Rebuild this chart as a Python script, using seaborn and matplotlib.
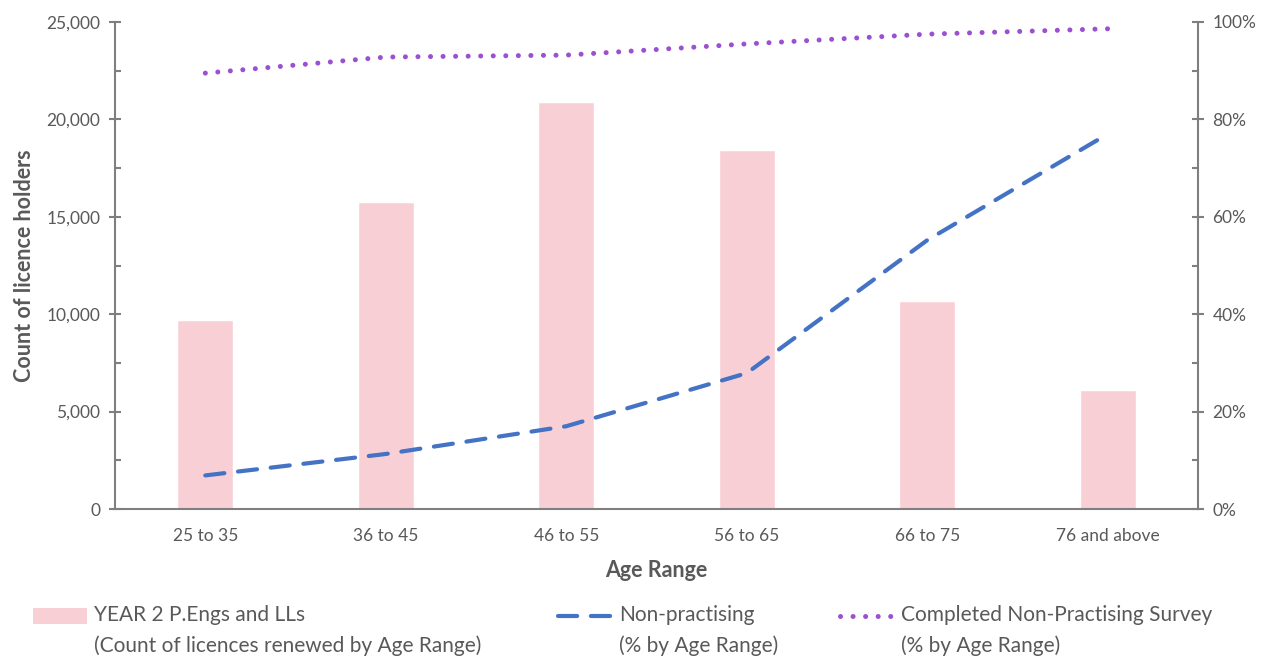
import matplotlib
matplotlib.use("Agg")
import matplotlib.pyplot as plt
import matplotlib.ticker as mticker
import matplotlib.transforms as mtransforms
from matplotlib.patches import Patch
from matplotlib.lines import Line2D
from matplotlib.legend_handler import HandlerPatch, HandlerLine2D
import numpy as np
import pandas as pd
import seaborn as sns

# Data
age_ranges = ["25 to 35", "36 to 45", "46 to 55", "56 to 65", "66 to 75", "76 and above"]
licences_renewed = [9700, 15760, 20900, 18430, 10680, 6100]
non_practising_pct = [6.9, 11.3, 17.0, 27.9, 55.2, 77.0]
completed_survey_pct = [89.5, 92.8, 93.2, 95.5, 97.5, 98.6]

legend_labels = [
    "YEAR 2 P.Engs and LLs\n(Count of licences renewed by Age Range)",
    "Non-practising\n(% by Age Range)",
    "Completed Non-Practising Survey\n(% by Age Range)",
]

BAR_COLOR = "#F9CFD6"
DASH_COLOR = "#4472C4"
DOT_COLOR = "#9A50D0"
TEXT_COLOR = "#595959"
AXIS_COLOR = "#7F7F7F"

sns.set_theme(style="white")
plt.rcParams["font.family"] = ["Lato", "DejaVu Sans"]

df = pd.DataFrame({
    "age": age_ranges,
    "count": licences_renewed,
    "pos": np.arange(len(age_ranges)),
    "nonprac": non_practising_pct,
    "survey": completed_survey_pct,
})

fig = plt.figure(figsize=(12.7, 6.58), dpi=100)
ax = fig.add_axes([0.0906, 0.2264, 0.8527, 0.7402])

sns.barplot(data=df, x="pos", y="count", color=BAR_COLOR, width=0.31,
            saturation=1, ax=ax)
ax.set_xlim(-0.5, len(age_ranges) - 0.5)
ax.set_ylim(0, 25000)
ax.set_xticks(range(len(age_ranges)))
ax.set_xticklabels(age_ranges)

ax2 = ax.twinx()
sns.lineplot(data=df, x="pos", y="nonprac", ax=ax2, color=DASH_COLOR,
             linewidth=3.0, legend=False)
sns.lineplot(data=df, x="pos", y="survey", ax=ax2, color=DOT_COLOR,
             linewidth=3.6, legend=False)
DASH_PATTERN = (4.6, 3.3)
DOT_PATTERN = (0.01, 2.5)
l_dash, l_dot = ax2.lines[0], ax2.lines[1]
l_dash.set_dashes(DASH_PATTERN)
l_dash.set_dash_capstyle("round")
l_dot.set_dashes(DOT_PATTERN)
l_dot.set_dash_capstyle("round")
ax2.set_ylim(0, 100)
ax2.set_xlim(-0.5, len(age_ranges) - 0.5)

# Axes styling
for a in (ax, ax2):
    for s in a.spines.values():
        s.set_visible(False)
ax.spines["left"].set_visible(True)
ax.spines["bottom"].set_visible(True)
ax2.spines["right"].set_visible(True)
for s in (ax.spines["left"], ax.spines["bottom"], ax2.spines["right"]):
    s.set_color(AXIS_COLOR)
    s.set_linewidth(1.5)

ax.yaxis.set_major_locator(mticker.MultipleLocator(5000))
ax.yaxis.set_minor_locator(mticker.MultipleLocator(2500))
ax.yaxis.set_major_formatter(mticker.FuncFormatter(lambda v, p: f"{int(v):,}"))
ax2.yaxis.set_major_locator(mticker.MultipleLocator(20))
ax2.yaxis.set_minor_locator(mticker.MultipleLocator(10))
ax2.yaxis.set_major_formatter(mticker.FuncFormatter(lambda v, p: f"{int(v)}%"))

ax.tick_params(axis="y", which="major", direction="inout", length=9, width=1.5,
               color=AXIS_COLOR, labelcolor=TEXT_COLOR, labelsize=12.5, pad=6, left=True)
ax.tick_params(axis="y", which="minor", direction="in", length=4, width=1.5,
               color=AXIS_COLOR, left=True)
ax2.tick_params(axis="y", which="major", direction="inout", length=9, width=1.5,
                color=AXIS_COLOR, labelcolor=TEXT_COLOR, labelsize=12.5, pad=6, right=True)
ax2.tick_params(axis="y", which="minor", direction="in", length=4, width=1.5,
                color=AXIS_COLOR, right=True)
ax.tick_params(axis="x", which="both", length=0, labelcolor=TEXT_COLOR,
               labelsize=12.5, pad=14)

ax.set_xlabel("Age Range", fontsize=15.5, fontweight="bold", color=TEXT_COLOR, labelpad=11)
ax.set_ylabel("Count of licence holders", fontsize=15.5, fontweight="bold",
              color=TEXT_COLOR, labelpad=8)
ax2.set_ylabel("")
ax.grid(False)
ax2.grid(False)


# Legend handlers that lift the key up to sit beside the first label line
LIFT = 10.5


class LiftedPatch(HandlerPatch):
    def create_artists(self, legend, orig_handle, xdescent, ydescent,
                       width, height, fontsize, trans):
        arts = super().create_artists(legend, orig_handle, xdescent, ydescent,
                                      width, height, fontsize, trans)
        for a in arts:
            a.set_transform(mtransforms.Affine2D().translate(0, LIFT) + trans)
        return arts


class LiftedLine(HandlerLine2D):
    def create_artists(self, legend, orig_handle, xdescent, ydescent,
                       width, height, fontsize, trans):
        arts = super().create_artists(legend, orig_handle, xdescent, ydescent,
                                      width, height, fontsize, trans)
        for a in arts:
            a.set_transform(mtransforms.Affine2D().translate(0, LIFT) + trans)
        return arts


handles = [
    Patch(facecolor=BAR_COLOR, edgecolor="none"),
    Line2D([0], [0], color=DASH_COLOR, linewidth=3.0, dashes=DASH_PATTERN,
           dash_capstyle="round"),
    Line2D([0], [0], color=DOT_COLOR, linewidth=3.6, dashes=DOT_PATTERN,
           dash_capstyle="round"),
]
handler_map = {Patch: LiftedPatch(), Line2D: LiftedLine()}
anchors_x = [33 / 1270, 558 / 1270, 840 / 1270]
for h, lab, x0 in zip(handles, legend_labels, anchors_x):
    lg = fig.legend([h], [lab], loc="upper left", bbox_to_anchor=(x0, 1 - 605 / 658),
                    frameon=False, fontsize=15, handlelength=2.6, handleheight=0.8,
                    handletextpad=0.34, borderpad=0, borderaxespad=0,
                    handler_map=handler_map)
    for t in lg.get_texts():
        t.set_color(TEXT_COLOR)
        t.set_linespacing(1.6)

fig.savefig("out.png", dpi=100, facecolor="white")
